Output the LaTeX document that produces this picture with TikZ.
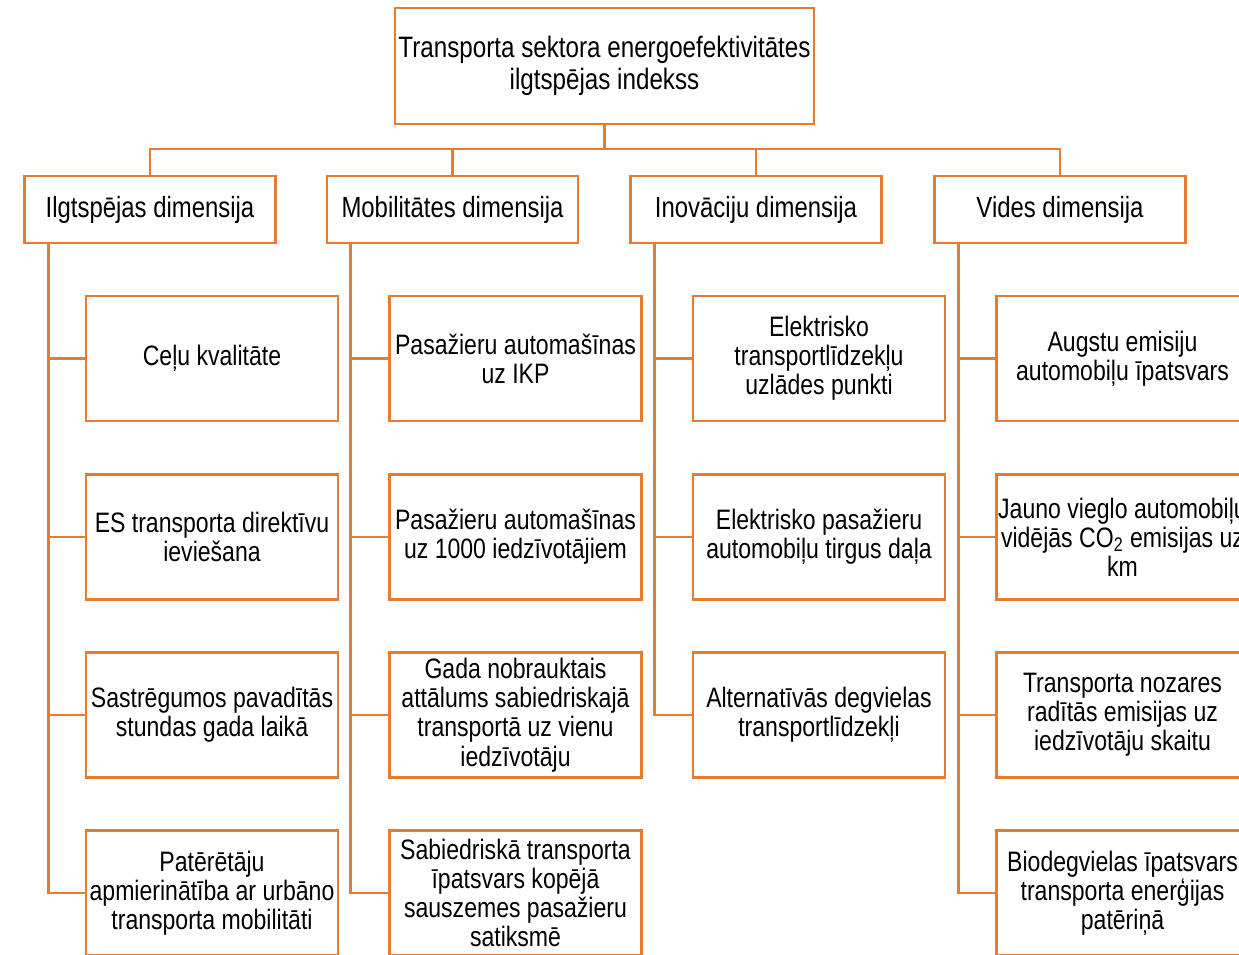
\documentclass[tikz,border=0pt]{standalone}
\usepackage{fontspec}
\setmainfont{Liberation Sans}[FakeStretch=0.82]

\definecolor{oranzs}{RGB}{229,124,52}

\tikzset{
    blok/.style={draw=oranzs, line width=1.6pt, fill=white, align=center,
        minimum width=5.04cm, minimum height=2.5cm, inner sep=1pt,
        font=\fontsize{16}{16.6}\selectfont},
    dim/.style={blok, minimum width=5.02cm, minimum height=1.34cm,
        font=\fontsize{16.6}{17}\selectfont},
    saite/.style={draw=oranzs, line width=1.6pt}
}

\begin{document}
\begin{tikzpicture}[x=0.02cm, y=-0.02cm]
    \useasboundingbox (0,0) rectangle (1239,954);
    \clip (0,0) rectangle (1239,954);
    %\draw[lightgray] (0,0) grid[step=50] (1239,954);

    \node[blok, minimum width=8.38cm, minimum height=2.32cm,
        font=\fontsize{16.8}{18}\selectfont] (indekss) at (604.5,66) {Transporta sektora energoefektivitātes\\ilgtspējas indekss};
    \coordinate (kopne) at (604.5,149);

    \node[dim] (ilg) at (150,209.5) {Ilgtspējas dimensija};
    \node[dim] (mob) at (452.5,209.5) {Mobilitātes dimensija};
    \node[dim] (ino) at (756,209.5) {Inovāciju dimensija};
    \node[dim] (vid) at (1060,209.5) {Vides dimensija};

    \node[blok] (ilg1) at (212,358.5) {Ceļu kvalitāte};
    \node[blok] (ilg2) at (212,537) {ES transporta direktīvu\\ieviešana};
    \node[blok] (ilg3) at (212,715) {Sastrēgumos pavadītās\\stundas gada laikā};
    \node[blok] (ilg4) at (212,893) {Patērētāju\\apmierinātība ar urbāno\\transporta mobilitāti};

    \node[blok] (mob1) at (515.5,358.5) {Pasažieru automašīnas\\uz IKP};
    \node[blok] (mob2) at (515.5,537) {Pasažieru automašīnas\\uz 1000 iedzīvotājiem};
    \node[blok] (mob3) at (515.5,715) {Gada nobrauktais\\attālums sabiedriskajā\\transportā uz vienu\\iedzīvotāju};
    \node[blok] (mob4) at (515.5,893) {Sabiedriskā transporta\\īpatsvars kopējā\\sauszemes pasažieru\\satiksmē};

    \node[blok] (ino1) at (819,358.5) {Elektrisko\\transportlīdzekļu\\uzlādes punkti};
    \node[blok] (ino2) at (819,537) {Elektrisko pasažieru\\automobiļu tirgus daļa};
    \node[blok] (ino3) at (819,715) {Alternatīvās degvielas\\transportlīdzekļi};

    \node[blok] (vid1) at (1122.5,358.5) {Augstu emisiju\\automobiļu īpatsvars};
    \node[blok] (vid2) at (1122.5,537) {Jauno vieglo automobiļu\\vidējās CO\textsubscript{2} emisijas uz\\km};
    \node[blok] (vid3) at (1122.5,715) {Transporta nozares\\radītās emisijas uz\\iedzīvotāju skaitu};
    \node[blok] (vid4) at (1122.5,893) {Biodegvielas īpatsvars\\transporta enerģijas\\patēriņā};

    % savienojumi
    \draw[saite] (indekss.south) -- (kopne);
    \foreach \d in {ilg,mob,ino,vid}
        \draw[saite] (kopne) -| (\d.north);
    \foreach \d/\n in {ilg/4,mob/4,ino/3,vid/4}
        \foreach \i in {1,...,\n}
            \draw[saite] ([xshift=0.5cm]\d.south west) |- (\d\i.west);
\end{tikzpicture}
\end{document}
